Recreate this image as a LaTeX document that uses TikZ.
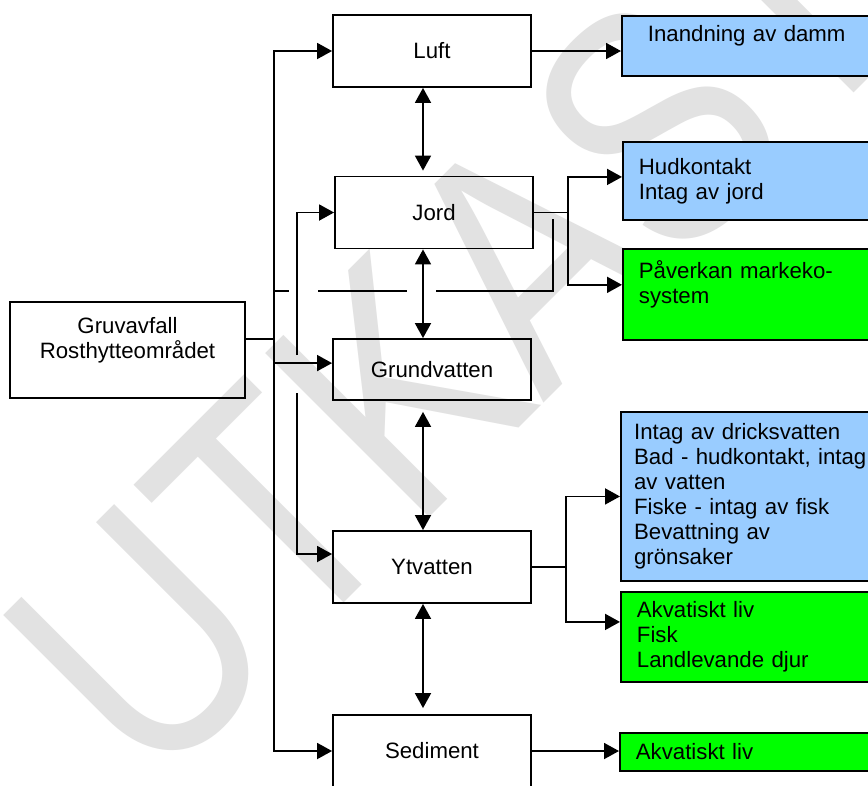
\documentclass[tikz,border=0pt]{standalone}
\usepackage{fontspec}
\setmainfont{Liberation Sans}
\newfontfamily\stampfont[FakeStretch=0.82]{Liberation Sans}
\usetikzlibrary{arrows.meta}
\definecolor{skyblue}{HTML}{99CCFF}
\definecolor{leafgreen}{HTML}{00FF00}
\definecolor{stampgray}{gray}{0.885}

\begin{document}
\begin{tikzpicture}[x=0.025cm, y=-0.025cm, line width=1.3pt,
    >={Triangle[length=3.75mm, width=4mm]},
    every node/.style={font=\fontsize{15.8}{17.8}\selectfont},
    medium/.style={draw, inner sep=0pt, minimum width=4.95cm, minimum height=1.8cm},
    effect/.style={draw, anchor=north west, align=left, text width=6cm, inner xsep=0.4cm, inner ysep=0pt}]
  \useasboundingbox (0,0) rectangle (868,785);
  \clip (0,0) rectangle (868,785);
  \fill [white] (0,0) rectangle (868,785);

  % watermark
  \node [text=stampgray, font=\stampfont\fontsize{239.6}{240}\selectfont, rotate=45,
    anchor=base west, inner sep=0pt] (stamp) at (152,795) {UTKAST};

  % source and media
  \node [medium, minimum width=5.875cm, minimum height=2.4cm, align=center] (src) at (127.5,350)
    {Gruvavfall\\Rosthytteområdet\\\mbox{}};
  \node [medium] (luft) at (432,51) {Luft};
  \node [medium] (jord) at (434,212.5) {Jord};
  \node [medium, minimum height=1.525cm] (grund) at (432,369.5) {Grundvatten};
  \node [medium] (yt) at (432,567) {Ytvatten};
  \node [medium] (sed) at (432,751) {Sediment};

  % exposure
  \node [effect, fill=skyblue, minimum height=1.5cm] (inand) at (621,15)
    {\hspace*{2.5mm}Inandning av damm\\\mbox{}};
  \node [effect, fill=skyblue, minimum height=1.95cm] (hud) at (622,141) {Hudkontakt\\Intag av jord};
  \node [effect, fill=leafgreen, minimum height=2.275cm] (paverkan) at (622,248)
    {Påverkan markeko-\\system\\\mbox{}};
  \node [effect, fill=skyblue, minimum height=4.225cm, inner xsep=0.33cm] (dricks) at (620,411)
    {Intag av dricksvatten\\Bad - hudkontakt, intag\\av vatten\\Fiske - intag av fisk\\Bevattning av\\grönsaker};
  \node [effect, fill=leafgreen, minimum height=2.25cm] (akva) at (620,591)
    {Akvatiskt liv\\Fisk\\Landlevande djur};
  \node [effect, fill=leafgreen, minimum height=0.95cm] (akvsed) at (619,732) {Akvatiskt liv};

  % spreading from the source
  \coordinate (ta) at (274,339);
  \coordinate (tb) at (297,355);
  \coordinate (tc) at (297,393);
  \coordinate (ax) at (423,0);
  \draw (src.east |- ta) -- (ta);
  \draw [->] (ta) |- (luft.west);
  \draw [->] (ta) |- (sed.west);
  \draw [->] (ta |- 0,363) -- ([yshift=1.6mm]grund.west);
  \draw [->] (tb) |- (jord.west);
  \draw [->] (tc) |- ([yshift=3.25mm]yt.west);
  \draw (ta |- 0,291) -- (289,291) (318,291) -- (407,291) (436,291) -| (553,219);

  % between media
  \draw [<->, shorten >=1.25mm] (luft.south -| ax) -- (jord.north -| ax);
  \draw [<->] (jord.south -| ax) -- (grund.north -| ax);
  \draw [<->, shorten <=2.75mm] (grund.south -| ax) -- (yt.north -| ax);
  \draw [<->, shorten >=1.5mm] (yt.south -| ax) -- (sed.north -| ax);

  % exposure routes
  \coordinate (tj) at (568,0);
  \coordinate (tv) at (566,0);
  \draw [->] (luft.east) -- (luft.east -| inand.west);
  \draw (jord.east) -- (jord.east -| tj);
  \draw [->] (jord.east -| tj) |- ([yshift=1mm]hud.west);
  \draw [->] (jord.east -| tj) |- ([yshift=2.4mm]paverkan.west);
  \draw (yt.east) -- (yt.east -| tv);
  \draw [->] (yt.east -| tv) |- (dricks.west);
  \draw [->] (yt.east -| tv) |- ([yshift=3.75mm]akva.west);
  \draw [->] (sed.east) -- (sed.east -| akvsed.west);
\end{tikzpicture}
\end{document}
